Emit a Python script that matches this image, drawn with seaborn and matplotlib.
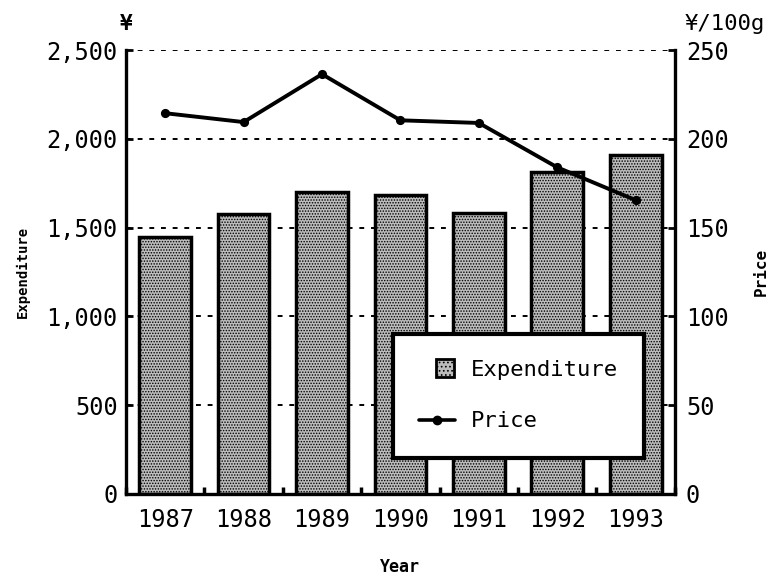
import numpy as np
import pandas as pd
import matplotlib
matplotlib.use("Agg")
import matplotlib.pyplot as plt
import seaborn as sns
from matplotlib.patches import Patch, Rectangle
from matplotlib.lines import Line2D
from matplotlib.legend_handler import HandlerPatch
from matplotlib.ticker import MultipleLocator, FuncFormatter

years = ["1987", "1988", "1989", "1990", "1991", "1992", "1993"]
expenditure = [1450, 1575, 1700, 1685, 1585, 1815, 1910]
price = [214.5, 209.5, 236.5, 210.5, 209, 184, 165.5]

left_ticks = [0, 500, 1000, 1500, 2000, 2500]
right_ticks = [0, 50, 100, 150, 200, 250]

BAR_FACE = "#bcbcbc"
HATCH = "......"

sns.set_theme(style="white")
plt.rcParams["font.family"] = ["DejaVu Sans Mono", "DejaVu Sans"]
plt.rcParams["hatch.linewidth"] = 0.7
plt.rcParams["hatch.color"] = "#222222"
for k in ["text.color", "axes.labelcolor", "xtick.color", "ytick.color"]:
    plt.rcParams[k] = "black"

df = pd.DataFrame({"Year": years, "Expenditure": expenditure, "Price": price})

fig = plt.figure(figsize=(7.73, 5.77), dpi=100)
ax = fig.add_axes([0.163, 0.144, 0.710, 0.769])

sns.barplot(data=df, x="Year", y="Expenditure", ax=ax, color=BAR_FACE,
            width=0.66, edgecolor="black", linewidth=2.5, saturation=1)
for p in ax.patches:
    p.set_hatch(HATCH)

ax.set_ylim(0, 2500)
ax.set_xlim(-0.5, 6.5)
ax.set_yticks(left_ticks)
ax.yaxis.set_major_formatter(FuncFormatter(lambda v, pos: f"{int(v):,}"))
ax.set_axisbelow(True)
ax.yaxis.grid(True, color="black", linestyle=(0, (2.5, 3.5)), linewidth=1.4)
ax.xaxis.grid(False)

for s in ["left", "right", "bottom"]:
    ax.spines[s].set_color("black")
    ax.spines[s].set_linewidth(2.4)
ax.spines["top"].set_visible(False)

ax.tick_params(axis="y", direction="in", length=5, width=2, labelsize=17, pad=6, left=True)
ax.tick_params(axis="x", which="major", length=0, labelsize=17, pad=10)
ax.xaxis.set_minor_locator(MultipleLocator(1, offset=0.5))
ax.tick_params(axis="x", which="minor", direction="in", length=5, width=2.5, bottom=True)

ax.set_xlabel("Year", fontsize=12, fontweight="bold", labelpad=19)
ax.set_ylabel("Expenditure", fontsize=10, fontweight="bold", labelpad=12)

ax2 = ax.twinx()
sns.pointplot(data=df, x="Year", y="Price", ax=ax2, color="black",
              markers="o", markersize=4.5, linewidth=2.8)
ax2.set_xlim(-0.5, 6.5)
ax2.set_ylim(0, 250)
ax2.set_yticks(right_ticks)
for s in ["left", "right", "bottom", "top"]:
    ax2.spines[s].set_visible(False)
ax2.tick_params(axis="y", direction="in", length=5, width=2, labelsize=17, pad=8, right=True)
ax2.set_ylabel("Price", fontsize=11.5, fontweight="bold", labelpad=18)
ax2.grid(False)

ax.text(0.0, 1.06, "¥", transform=ax.transAxes, fontsize=15, fontweight="bold",
        ha="center", va="center")
ax2.text(1.018, 1.06, "¥/100g", transform=ax2.transAxes, fontsize=16, ha="left", va="center")


def square_patch(legend, orig_handle, xdescent, ydescent, width, height, fontsize):
    s = height * 1.15
    return Rectangle((width - s - xdescent - 1, (height - s) / 2 - ydescent), s, s)


handles = [
    Patch(facecolor=BAR_FACE, edgecolor="black", hatch="....", linewidth=2, label="Expenditure"),
    Line2D([0], [0], color="black", marker="o", markersize=6, linewidth=2.6, label="Price"),
]
leg = ax2.legend(handles=handles, loc="lower left", bbox_to_anchor=(0.486, 0.081),
                 fontsize=16, frameon=True, fancybox=False, framealpha=1,
                 edgecolor="black", borderpad=1.2, labelspacing=1.4,
                 handlelength=1.6, handletextpad=0.7, borderaxespad=0,
                 handler_map={Patch: HandlerPatch(patch_func=square_patch)})
leg.get_frame().set_linewidth(3)
leg.get_frame().set_facecolor("white")

fig.savefig("out.png", dpi=100)
